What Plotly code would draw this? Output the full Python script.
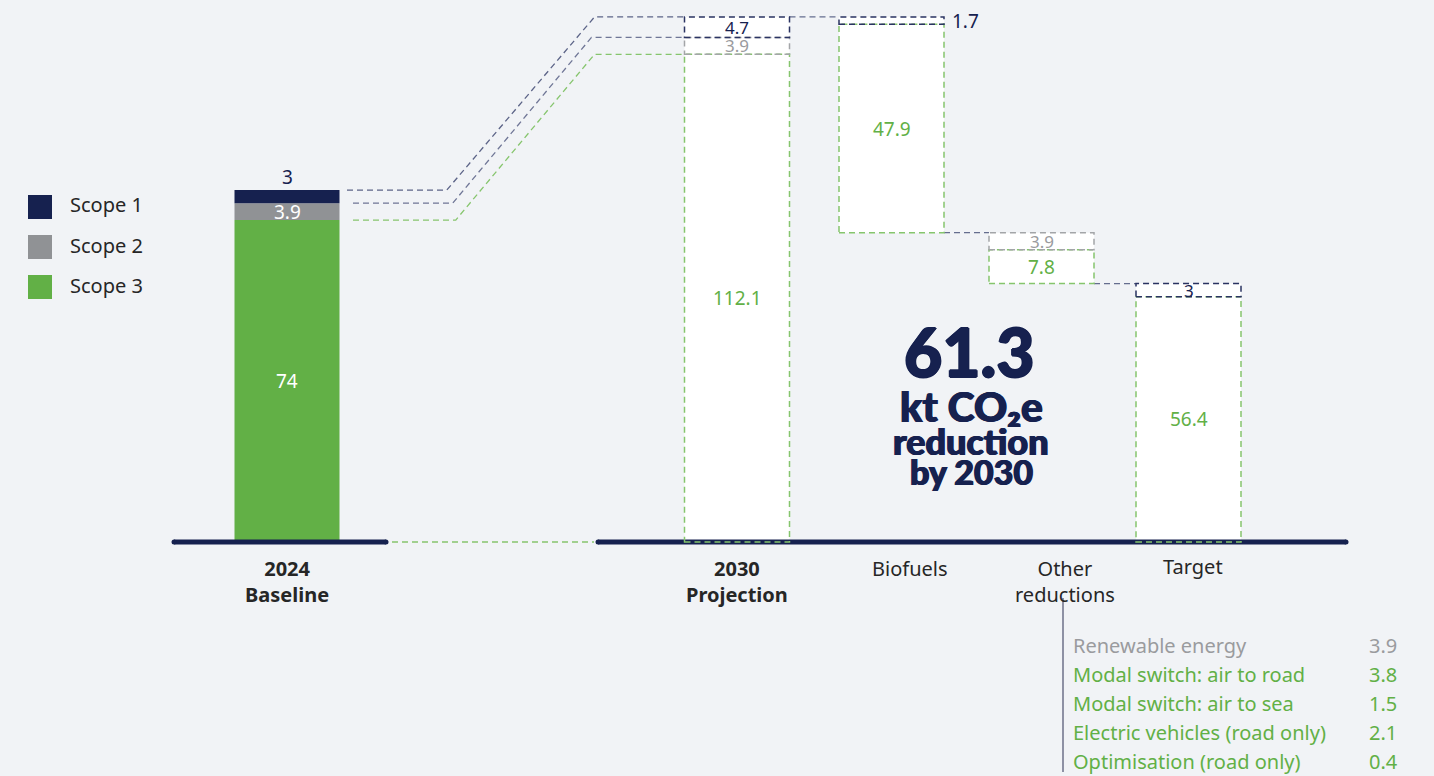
import plotly.graph_objects as go

# ---------------- data ----------------
categories = ["2024<br>Baseline", "2030<br>Projection", "Biofuels", "Other<br>reductions", "Target"]
kinds = ["total", "total", "reduction", "reduction", "total"]
series_names = ["Scope 1", "Scope 2", "Scope 3"]
scope1 = [3, 4.7, 1.7, 0, 3]
scope2 = [3.9, 3.9, 0, 3.9, 0]
scope3 = [74, 112.1, 47.9, 7.8, 56.4]

breakdown_labels = ["Renewable energy", "Modal switch: air to road", "Modal switch: air to sea",
                    "Electric vehicles (road only)", "Optimisation (road only)"]
breakdown_values = [3.9, 3.8, 1.5, 2.1, 0.4]
breakdown_scope = [2, 3, 3, 3, 3]

# ---------------- styling / layout ----------------
W, H = 1434, 776
BG = "#f1f3f6"
NAVY = "#16214f"
GRAY = "#909295"
GREEN = "#62b046"
GRAY_TXT = "#9a9b9e"
DASH_NAVY = "#2a3362"
DASH_GRAY = "#a3a5a8"
DASH_GREEN = "#86c56d"
TXT = "#262626"
FONT = "Noto Sans"

X0PX, XS = 287.0, 150.0
Y0PX, YS = 542.0, 4.35
xpos = [0, 3, 4.03, 5.03, 6.01]
BW = 0.70


def px(xp):
    return xp / W


def py(yp):
    return 1 - yp / H


totals = [a + b + c for a, b, c in zip(scope1, scope2, scope3)]
bases = []
level = 0
for i, k in enumerate(kinds):
    if k == "total":
        bases.append(0)
        level = totals[i]
    else:
        level -= totals[i]
        bases.append(level)

reduction = totals[1] - totals[-1]

fig = go.Figure()

series = [scope3, scope2, scope1]
scope_fill = [GREEN, GRAY, NAVY]
scope_dash = [DASH_GREEN, DASH_GRAY, DASH_NAVY]
scope_txt = [GREEN, GRAY_TXT, NAVY]
names = [series_names[2], series_names[1], series_names[0]]

seg_bases = []
cum = list(bases)
for s in series:
    seg_bases.append(list(cum))
    cum = [c + v for c, v in zip(cum, s)]

for j, s in enumerate(series):
    colors = [scope_fill[j] if i == 0 else "white" for i in range(len(s))]
    fig.add_trace(go.Bar(
        x=xpos, y=s, base=seg_bases[j], width=BW, name=names[j],
        marker=dict(color=colors, line=dict(width=0)),
        showlegend=False, hoverinfo="skip"))

# dashed outlines for projected bars
for j, s in enumerate(series):
    for i in range(1, len(s)):
        if s[i] <= 0:
            continue
        fig.add_shape(type="rect", xref="x", yref="y",
                      x0=xpos[i] - BW / 2, x1=xpos[i] + BW / 2,
                      y0=seg_bases[j][i], y1=seg_bases[j][i] + s[i],
                      line=dict(color=scope_dash[j], width=1.5, dash="6px,4px"),
                      fillcolor="rgba(0,0,0,0)", layer="above")

# value labels
for j, s in enumerate(series):
    for i, v in enumerate(s):
        if v <= 0:
            continue
        txt = ("%g" % v)
        mid = seg_bases[j][i] + v / 2
        small = v < 5
        if i == 0:
            if j == 2:
                fig.add_annotation(x=xpos[i], y=seg_bases[j][i] + v, text=txt, showarrow=False,
                                   xanchor="center", yanchor="bottom", yshift=-2,
                                   font=dict(family=FONT, size=19, color=NAVY))
            else:
                fig.add_annotation(x=xpos[i], y=mid, text=txt, showarrow=False, xanchor="center",
                                   font=dict(family=FONT, size=19, color="white"))
        elif v < 2.5 and kinds[i] == "reduction":
            fig.add_annotation(x=xpos[i] + BW / 2, y=mid, text=txt, showarrow=False,
                               xanchor="left", xshift=6,
                               font=dict(family=FONT, size=19, color=scope_txt[j]))
        else:
            fig.add_annotation(x=xpos[i], y=mid, text=txt, showarrow=False, xanchor="center",
                               font=dict(family=FONT, size=17 if small else 19, color=scope_txt[j]))

# connectors baseline -> projection
lv24 = [totals[0], scope3[0] + scope2[0], scope3[0]]
lv30 = [totals[1], scope3[1] + scope2[1], scope3[1]]
con_cols = ["rgba(42,51,98,0.75)", "rgba(42,51,98,0.65)", DASH_GREEN]
bend1 = [1.065, 1.105, 1.125]
bend2 = [2.05, 2.03, 2.05]
start = [0.40, 0.44, 0.44]
for k in range(3):
    fig.add_trace(go.Scatter(
        x=[start[k], bend1[k], bend2[k], xpos[1] - BW / 2],
        y=[lv24[k], lv24[k], lv30[k], lv30[k]],
        mode="lines", line=dict(color=con_cols[k], width=1.3, dash="6px,4px"),
        showlegend=False, hoverinfo="skip"))

# connectors between waterfall steps
for i in range(1, len(xpos) - 1):
    yv = totals[i] if kinds[i] == "total" else bases[i]
    fig.add_trace(go.Scatter(
        x=[xpos[i] + BW / 2, xpos[i + 1] - BW / 2], y=[yv, yv],
        mode="lines", line=dict(color="rgba(42,51,98,0.7)", width=1.3, dash="6px,4px"),
        showlegend=False, hoverinfo="skip"))

# axis base lines
x_l0 = (174 - X0PX) / XS
x_l1 = (386 - X0PX) / XS
x_r0 = (598 - X0PX) / XS
x_r1 = (1346 - X0PX) / XS
for a, b in [(x_l0, x_l1), (x_r0, x_r1)]:
    fig.add_trace(go.Scatter(x=[a, b], y=[0, 0], mode="lines+markers",
                             line=dict(color=NAVY, width=5),
                             marker=dict(color=NAVY, size=5),
                             showlegend=False, hoverinfo="skip"))
fig.add_trace(go.Scatter(x=[(392 - X0PX) / XS, (594 - X0PX) / XS], y=[0, 0], mode="lines",
                         line=dict(color=DASH_GREEN, width=1.3, dash="6px,4px"),
                         showlegend=False, hoverinfo="skip"))

# category labels
label_px = [287, 737, 910, 1065, 1193]
label_bold = [True, True, False, False, False]
for i, c in enumerate(categories):
    fig.add_annotation(xref="paper", yref="paper", x=px(label_px[i]),
                       y=py(553 - (2 if i == 4 else 0)),
                       text=c, showarrow=False, xanchor="center", yanchor="top",
                       font=dict(family=FONT, size=20, color=TXT,
                                 weight=700 if label_bold[i] else 400))

# legend
leg_y = [207, 247, 287]
leg_cols = [NAVY, GRAY, GREEN]
for k in range(3):
    fig.add_shape(type="rect", xref="paper", yref="paper",
                  x0=px(28), x1=px(52), y0=py(leg_y[k] - 12), y1=py(leg_y[k] + 12),
                  fillcolor=leg_cols[k], line=dict(width=0))
    fig.add_annotation(xref="paper", yref="paper", x=px(68), y=py(leg_y[k] - 2),
                       text=series_names[k], showarrow=False, xanchor="left", yanchor="middle",
                       font=dict(family=FONT, size=20, color=TXT))

# headline
HEAVY = ", ".join("%dpx %dpx 0px %s" % (dx, dy, NAVY) for dx, dy in [(1, 0), (-1, 0), (0, 1), (0, -1)])
HEAVY2 = "0.7px 0px 0px %s, -0.7px 0px 0px %s" % (NAVY, NAVY)
fig.add_annotation(xref="paper", yref="paper", x=px(969), y=py(352), text="%.1f" % reduction,
                   xanchor="center", yanchor="middle",
                   showarrow=False, font=dict(family="Lato", size=66, color=NAVY, weight=900, shadow=HEAVY))
for t, yy, sz in [("kt CO₂e", 406, 41), ("reduction", 441, 36), ("by 2030", 472, 34)]:
    fig.add_annotation(xref="paper", yref="paper", x=px(971), y=py(yy), text=t,
                       xanchor="center", yanchor="middle",
                       showarrow=False, font=dict(family="Lato", size=sz, color=NAVY, weight=900,
                                                  shadow=HEAVY2))

# breakdown list
fig.add_shape(type="line", xref="paper", yref="paper", x0=px(1063), x1=px(1063),
              y0=py(598), y1=py(772), line=dict(color="#6d7189", width=1.5))
for k, (lab, val) in enumerate(zip(breakdown_labels, breakdown_values)):
    col = GRAY_TXT if breakdown_scope[k] == 2 else GREEN
    yy = 645 + 29.2 * k
    fig.add_annotation(xref="paper", yref="paper", x=px(1071), y=py(yy), text=lab,
                       showarrow=False, xanchor="left", yanchor="middle",
                       font=dict(family=FONT, size=20, color=col))
    fig.add_annotation(xref="paper", yref="paper", x=px(1367), y=py(yy), text="%.1f" % val,
                       showarrow=False, xanchor="left", yanchor="middle",
                       font=dict(family=FONT, size=20, color=col))

fig.update_layout(
    width=W, height=H, margin=dict(l=0, r=0, t=0, b=0),
    paper_bgcolor=BG, plot_bgcolor=BG, barmode="overlay", showlegend=False,
    xaxis=dict(range=[(0 - X0PX) / XS, (W - X0PX) / XS], visible=False, fixedrange=True),
    yaxis=dict(range=[(Y0PX - H) / YS, Y0PX / YS], visible=False, fixedrange=True),
)

fig.write_html("out.html")
